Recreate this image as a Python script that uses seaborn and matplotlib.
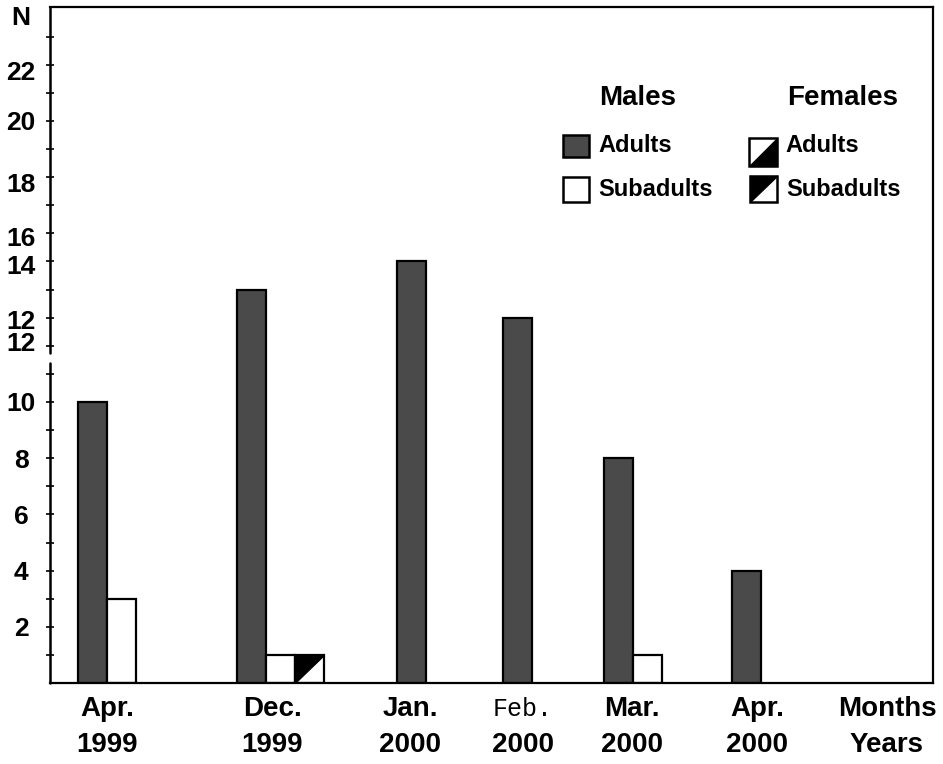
import numpy as np
import pandas as pd
import matplotlib
matplotlib.use("Agg")
import matplotlib.pyplot as plt
import seaborn as sns
from matplotlib.patches import Rectangle, Polygon
from matplotlib.transforms import blended_transform_factory

# ---- data -----------------------------------------------------------------
months = ["Apr.", "Dec.", "Jan.", "Feb.", "Mar.", "Apr."]
years = ["1999", "1999", "2000", "2000", "2000", "2000"]
male_adults = [10, 14, 15, 13, 8, 4]
male_subadults = [3, 1, 0, 0, 1, 0]
female_subadults = [0, 1, 0, 0, 0, 0]
female_adults = [0, 0, 0, 0, 0, 0]
ytick_labels = ["2", "4", "6", "8", "10", "12", "12", "14", "16", "18", "20", "22", "N"]

# ---- layout (figure pixels) -----------------------------------------------
W, H, DPI = 943, 764, 100
AX_L, AX_R, AX_B, AX_T = 50, 933, 683, 7
PX_PER_N = 28.1
group_x = [92, 251, 411, 517, 618, 746]        # centre of the first bar in each period
bar_step = 29                                   # bar width / spacing inside a period
label_x = [107, 272, 410, 523, 632, 757]
ytick_label_pos = [2, 4, 6, 8, 10, 12.15, 12.95, 14.9, 15.9, 17.8, 20.0, 21.8, 23.75]
ADULT_GREY = "#4a4a4a"
INK = "black"

classes = ["Male adults", "Male subadults", "Female subadults", "Female adults"]
series = [male_adults, male_subadults, female_subadults, female_adults]

rows = []
for slot, (cls, vals) in enumerate(zip(classes, series)):
    for g, v in enumerate(vals):
        if v > 0:
            rows.append({"pos": group_x[g] + slot * bar_step, "n": v, "cls": cls})
df = pd.DataFrame(rows)

sns.set_style("white")
plt.rcParams["font.family"] = ["Liberation Sans", "DejaVu Sans"]
plt.rcParams["font.weight"] = "bold"
plt.rcParams["text.color"] = INK
plt.rcParams["ytick.color"] = INK
plt.rcParams["ytick.labelcolor"] = INK

fig = plt.figure(figsize=(W / DPI, H / DPI), dpi=DPI)
ax = fig.add_axes([AX_L / W, 1 - AX_B / H, (AX_R - AX_L) / W, (AX_B - AX_T) / H])

palette = {"Male adults": ADULT_GREY, "Male subadults": "white",
           "Female subadults": "white", "Female adults": "white"}
sns.barplot(data=df, x="pos", y="n", hue="cls", hue_order=classes, palette=palette,
            native_scale=True, dodge=False, width=1.0, edgecolor="black",
            linewidth=1.6, saturation=1, legend=False, ax=ax)

# half-black fill for the female bars
for _, r in df[df["cls"].str.startswith("Female")].iterrows():
    for p in ax.patches:
        if abs(p.get_x() + p.get_width() / 2 - r["pos"]) < 1e-6 and p.get_height() > 0:
            x0, y0 = p.get_x(), p.get_y()
            x1, y1 = x0 + p.get_width(), y0 + p.get_height()
            if r["cls"] == "Female subadults":
                tri = [(x0, y0), (x0, y1), (x1, y1)]
            else:
                tri = [(x0, y0), (x1, y0), (x1, y1)]
            ax.add_patch(Polygon(tri, closed=True, facecolor="black", edgecolor="black",
                                 linewidth=0.8, zorder=p.get_zorder() + 0.1))

ax.set_xlim(AX_L, AX_R)
ax.set_ylim(0, (AX_B - AX_T) / PX_PER_N)
ax.set_xlabel("")
ax.set_ylabel("")
ax.set_xticks([])

# frame: broken left axis, plain box elsewhere
for side in ("top", "right", "bottom"):
    ax.spines[side].set_visible(True)
    ax.spines[side].set_color("black")
    ax.spines[side].set_linewidth(1.6)
ax.spines["left"].set_visible(False)
yl = blended_transform_factory(ax.transAxes, ax.transData)
top_n = (AX_B - AX_T) / PX_PER_N
ax.plot([0, 0], [0, 11.4], color="black", lw=1.8, transform=yl, clip_on=False, zorder=5)
ax.plot([0, 0], [11.75, top_n], color="black", lw=1.8, transform=yl, clip_on=False, zorder=5)

# y ticks: a mark at every unit, labels at their own heights
ax.yaxis.remove_overlapping_locs = False
ax.set_yticks(ytick_label_pos)
ax.set_yticklabels(ytick_labels)
ax.set_yticks(np.arange(1, 24), minor=True)
ax.tick_params(axis="y", which="major", length=0, pad=(AX_L - 21) * 72 / DPI,
               labelsize=19, left=True, labelcolor=INK)
ax.tick_params(axis="y", which="minor", direction="inout", length=6, width=1.2,
               color="black", left=True)
for t in ax.get_yticklabels():
    t.set_horizontalalignment("center")
    t.set_fontweight("bold")
    t.set_color(INK)

# period labels under the axis
lx = blended_transform_factory(ax.transData, fig.transFigure)
for x, m, yr in zip(label_x, months, years):
    if m == "Feb.":
        ax.text(x, 1 - 709 / H, m, transform=lx, ha="center", va="center", color=INK,
                fontsize=18, fontweight="normal", family=["Liberation Mono", "DejaVu Sans Mono"])
    else:
        ax.text(x, 1 - 709 / H, m, transform=lx, ha="center", va="center", color=INK,
                fontsize=20, fontweight="bold")
    ax.text(x, 1 - 745 / H, yr, transform=lx, ha="center", va="center", color=INK,
            fontsize=20, fontweight="bold")
fig.text(887 / W, 1 - 709 / H, "Months", ha="center", va="center", color=INK,
         fontsize=20, fontweight="bold")
fig.text(887 / W, 1 - 745 / H, "Years", ha="center", va="center", color=INK,
         fontsize=20, fontweight="bold")

# key
def fx(px):
    return px / W


def fy(py):
    return 1 - py / H


fig.text(fx(638), fy(98), "Males", ha="center", va="center", color=INK,
         fontsize=20, fontweight="bold")
fig.text(fx(843), fy(98), "Females", ha="center", va="center", color=INK,
         fontsize=20, fontweight="bold")


def key_box(x0, y0, x1, y1, face, tri=None):
    fig.patches.append(Rectangle((fx(x0), fy(y1)), fx(x1) - fx(x0), fy(y0) - fy(y1),
                                 transform=fig.transFigure, facecolor=face,
                                 edgecolor="black", linewidth=1.8))
    if tri == "upper":
        pts = [(fx(x0), fy(y1)), (fx(x0), fy(y0)), (fx(x1), fy(y0))]
    elif tri == "lower":
        pts = [(fx(x0), fy(y1)), (fx(x1), fy(y1)), (fx(x1), fy(y0))]
    else:
        return
    fig.patches.append(Polygon(pts, closed=True, transform=fig.transFigure,
                               facecolor="black", edgecolor="black", linewidth=0.8))


key_box(563, 135, 589, 157, ADULT_GREY)
key_box(563, 177, 589, 202, "white")
key_box(749, 138, 777, 166, "white", tri="lower")
key_box(750, 176, 777, 202, "white", tri="upper")
for x, y, s in [(598, 146, "Adults"), (598, 190, "Subadults"),
                (785, 146, "Adults"), (786, 190, "Subadults")]:
    fig.text(fx(x), fy(y), s, ha="left", va="center", color=INK,
             fontsize=17, fontweight="bold")

fig.savefig("out.png", dpi=DPI, facecolor="white")
